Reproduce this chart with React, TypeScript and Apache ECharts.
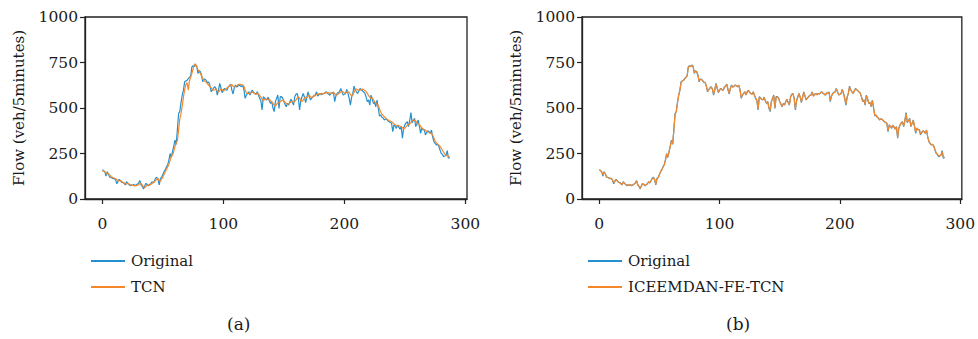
import React, { useEffect, useRef } from "react";
import * as echarts from "echarts";

const xTicks = [0, 100, 200, 300];
const yTicks = [0, 250, 500, 750, 1000];

const original = [
  160, 156, 150, 126, 150, 138, 120, 118, 116, 112, 113, 104,
  84, 98, 108, 100, 92, 90, 86, 77, 95, 86, 80, 73,
  78, 74, 80, 72, 78, 82, 88, 101, 78, 70, 55, 72,
  86, 80, 72, 78, 84, 95, 88, 100, 114, 119, 108, 77,
  114, 118, 135, 150, 160, 178, 187, 215, 250, 228, 262, 290,
  323, 300, 380, 470, 480, 530, 570, 598, 644, 648, 652, 662,
  668, 675, 726, 732, 728, 736, 730, 690, 705, 699, 680, 644,
  660, 657, 650, 639, 642, 620, 589, 600, 610, 617, 605, 571,
  600, 635, 610, 584, 598, 608, 600, 598, 615, 622, 631, 600,
  577, 610, 626, 615, 620, 626, 622, 617, 625, 600, 553, 570,
  580, 589, 571, 590, 598, 585, 580, 575, 589, 570, 553, 540,
  489, 562, 555, 548, 544, 560, 540, 525, 535, 500, 480, 535,
  553, 571, 498, 562, 562, 555, 535, 520, 507, 525, 516, 535,
  548, 530, 516, 562, 575, 580, 553, 489, 540, 562, 580, 560,
  529, 560, 589, 565, 544, 555, 562, 570, 571, 589, 565, 575,
  580, 572, 580, 577, 585, 589, 580, 577, 570, 584, 580, 589,
  535, 565, 580, 585, 589, 607, 590, 571, 575, 580, 602, 580,
  553, 516, 560, 580, 620, 600, 589, 580, 595, 607, 600, 594,
  588, 580, 560, 535, 545, 516, 571, 550, 525, 530, 507, 544,
  500, 456, 462, 449, 445, 434, 440, 438, 430, 425, 420, 416,
  370, 407, 400, 388, 407, 395, 383, 398, 334, 390, 407, 418,
  425, 398, 430, 475, 420, 430, 443, 398, 415, 434, 400, 361,
  390, 379, 383, 352, 365, 375, 370, 360, 379, 340, 315, 305,
  297, 300, 291, 270, 251, 245, 233, 236, 240, 266, 224, 229,
];

const tcn = [
  152, 155, 150, 142, 138, 140, 132, 124, 120, 117, 114, 112,
  106, 98, 100, 102, 96, 92, 89, 84, 82, 86, 82, 78,
  76, 75, 73, 74, 73, 76, 78, 84, 86, 76, 66, 62,
  68, 76, 78, 76, 80, 86, 90, 94, 102, 110, 112, 100,
  98, 110, 120, 136, 150, 162, 176, 190, 212, 236, 240, 262,
  288, 308, 320, 380, 440, 470, 510, 560, 600, 630, 640, 600,
  650, 670, 690, 715, 740, 742, 725, 712, 700, 690, 676, 660,
  652, 645, 640, 632, 625, 618, 610, 600, 598, 600, 604, 594,
  588, 596, 605, 600, 594, 598, 604, 610, 616, 622, 626, 628,
  620, 615, 618, 622, 628, 630, 630, 628, 626, 620, 600, 582,
  578, 580, 582, 584, 588, 582, 578, 576, 580, 578, 570, 560,
  548, 540, 545, 550, 548, 545, 548, 540, 535, 525, 515, 510,
  520, 530, 528, 535, 540, 544, 540, 530, 525, 520, 522, 528,
  535, 538, 532, 536, 545, 555, 560, 555, 540, 535, 545, 555,
  560, 555, 565, 570, 562, 558, 560, 565, 568, 575, 578, 576,
  578, 580, 578, 580, 582, 584, 586, 584, 580, 580, 582, 585,
  580, 570, 572, 578, 582, 588, 592, 588, 584, 582, 586, 590,
  585, 575, 565, 572, 585, 600, 604, 600, 596, 598, 602, 604,
  600, 596, 590, 580, 568, 560, 552, 556, 545, 535, 528, 520,
  515, 496, 478, 466, 458, 452, 446, 440, 436, 430, 428, 424,
  420, 412, 408, 404, 402, 404, 400, 398, 392, 384, 390, 398,
  405, 410, 412, 420, 432, 436, 432, 428, 418, 410, 408, 400,
  390, 385, 380, 378, 372, 368, 365, 362, 360, 350, 335, 320,
  310, 302, 296, 290, 280, 268, 258, 248, 240, 238, 236, 226,
];

const iceemdan = [
  158, 157, 148, 132, 148, 140, 124, 118, 116, 113, 112, 106,
  88, 98, 106, 100, 93, 89, 82, 80, 93, 86, 80, 75,
  78, 75, 79, 73, 77, 82, 87, 99, 80, 70, 58, 72,
  85, 80, 74, 78, 84, 93, 89, 100, 112, 117, 108, 82,
  112, 118, 134, 150, 160, 176, 187, 213, 246, 232, 260, 288,
  320, 304, 378, 466, 480, 528, 570, 596, 640, 648, 652, 660,
  668, 676, 722, 731, 728, 734, 728, 694, 703, 698, 680, 648,
  658, 655, 650, 640, 640, 620, 592, 600, 609, 615, 604, 576,
  600, 632, 610, 587, 598, 606, 600, 598, 614, 620, 628, 602,
  580, 608, 624, 615, 620, 624, 622, 617, 624, 600, 558, 570,
  580, 588, 573, 590, 596, 585, 580, 576, 588, 570, 555, 542,
  495, 560, 555, 548, 545, 558, 540, 527, 535, 503, 486, 533,
  552, 568, 503, 560, 560, 554, 535, 521, 509, 524, 518, 534,
  546, 530, 518, 560, 574, 578, 553, 495, 540, 560, 578, 560,
  532, 560, 586, 565, 546, 555, 561, 569, 570, 587, 566, 574,
  579, 572, 579, 577, 584, 588, 580, 577, 571, 583, 580, 587,
  540, 565, 579, 584, 588, 604, 590, 572, 575, 580, 600, 580,
  555, 521, 560, 580, 616, 600, 589, 581, 594, 605, 600, 594,
  588, 580, 561, 538, 545, 520, 568, 550, 527, 530, 510, 542,
  500, 460, 462, 450, 446, 436, 440, 438, 431, 426, 421, 417,
  375, 405, 400, 390, 405, 395, 385, 397, 340, 390, 405, 417,
  424, 400, 430, 470, 422, 430, 441, 400, 415, 432, 401, 366,
  390, 380, 383, 356, 366, 375, 370, 362, 378, 342, 317, 306,
  298, 300, 292, 272, 254, 247, 236, 238, 241, 260, 228, 231,
];

const BLUE = "#2590cf";
const ORANGE = "#f6882c";
const AXIS = "#222222";
const TEXT = "#1a1a1a";
const FONT = "DejaVu Serif";

const toPairs = (arr: number[]) => arr.map((v, i) => [i, v]);

export default function App() {
  const ref = useRef<HTMLDivElement>(null);
  useEffect(() => {
    if (!ref.current) return;
    const chart = echarts.init(ref.current, undefined, { renderer: "svg" });
    const grids = [
      { left: 85, top: 17, width: 382, height: 182 },
      { left: 582, top: 17, width: 383, height: 182 },
    ];
    const xAxis = grids.map((_, gi) => ({
      type: "value",
      gridIndex: gi,
      min: -14.35,
      max: 301.35,
      axisLine: { show: true, onZero: false, lineStyle: { color: AXIS, width: 1.3 } },
      axisTick: { show: true, length: 5, customValues: xTicks, lineStyle: { color: AXIS, width: 1.2 } },
      axisLabel: { customValues: xTicks, margin: 17, color: TEXT, fontFamily: FONT, fontSize: 15.5, formatter: (v: number) => String(v) },
      splitLine: { show: false },
    }));
    const yAxis = grids.map((_, gi) => ({
      type: "value",
      gridIndex: gi,
      min: yTicks[0],
      max: yTicks[yTicks.length - 1],
      interval: 250,
      name: "Flow (veh/5minutes)",
      nameLocation: "middle",
      nameGap: 59,
      nameTextStyle: { color: TEXT, fontFamily: FONT, fontSize: 15 },
      axisLine: { show: true, onZero: false, lineStyle: { color: AXIS, width: 1.3 } },
      axisTick: { show: true, length: 5, lineStyle: { color: AXIS, width: 1.2 } },
      axisLabel: { margin: 7, color: TEXT, fontFamily: FONT, fontSize: 15.5, formatter: (v: number) => String(v) },
      splitLine: { show: false },
    }));
    const lineSeries = (name: string, data: number[], color: string, gi: number) => ({
      type: "line",
      name,
      xAxisIndex: gi,
      yAxisIndex: gi,
      data: toPairs(data),
      showSymbol: false,
      symbol: "none",
      lineStyle: { color, width: 1.2 },
      itemStyle: { color },
    });
    const legendBase = {
      top: 248,
      orient: "vertical",
      itemWidth: 34,
      itemHeight: 2,
      itemGap: 10,
      icon: "rect",
      textStyle: { color: TEXT, fontFamily: FONT, fontSize: 15, lineHeight: 16, padding: [0, 0, 0, 1] },
    };
    chart.setOption({
      animation: false,
      grid: grids.map((g) => ({ ...g, show: true, borderColor: AXIS, borderWidth: 1.3, backgroundColor: "transparent" })),
      xAxis,
      yAxis,
      legend: [
        { ...legendBase, left: 86, data: ["Original", "TCN"] },
        { ...legendBase, left: 583, data: ["Original", "ICEEMDAN-FE-TCN"] },
      ],
      graphic: [
        { type: "text", left: 242 - 15, top: 315, style: { text: "(a)", fill: TEXT, font: `17px "${FONT}"` } },
        { type: "text", left: 741 - 15, top: 315, style: { text: "(b)", fill: TEXT, font: `17px "${FONT}"` } },
      ],
      series: [
        lineSeries("Original", original, BLUE, 0),
        lineSeries("TCN", tcn, ORANGE, 0),
        lineSeries("Original", original, BLUE, 1),
        lineSeries("ICEEMDAN-FE-TCN", iceemdan, ORANGE, 1),
      ],
    });
    return () => chart.dispose();
  }, []);
  return <div ref={ref} style={{ width: 978, height: 339, position: "absolute", left: 0, top: 0 }} />;
}
